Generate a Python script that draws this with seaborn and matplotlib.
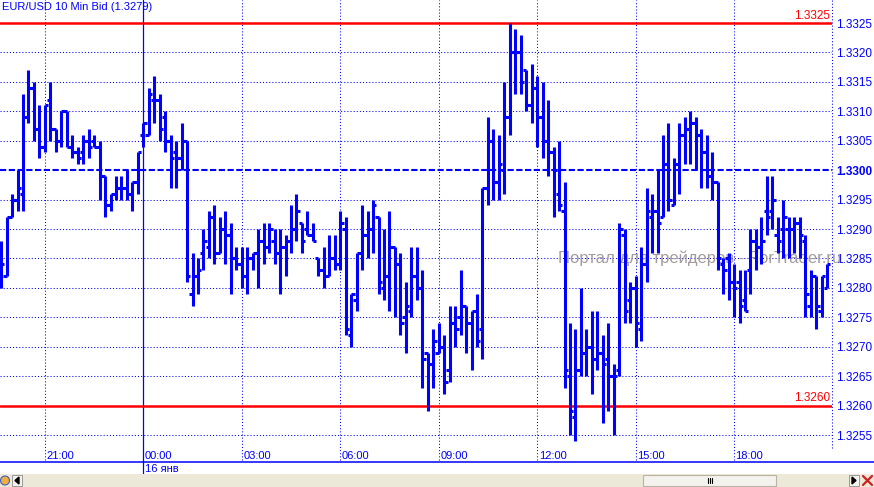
import numpy as np
import pandas as pd
import matplotlib
matplotlib.use("Agg")
import matplotlib.pyplot as plt
import seaborn as sns
from matplotlib.patches import Rectangle, Polygon, Circle
from matplotlib.lines import Line2D
import matplotlib.transforms as mtransforms

# ---------------- data (10-minute EUR/USD bid bars, 19:40 -> 20:50 next day) ----------------
opens = [1.3281, 1.3282, 1.3292, 1.3295, 1.3296, 1.3309, 1.3314, 1.3307, 1.3304, 1.3312,
         1.3307, 1.3305, 1.3310, 1.3304, 1.3303, 1.3303, 1.3305, 1.3305, 1.3304, 1.3299,
         1.3294, 1.3296, 1.3297, 1.3297, 1.3296, 1.3298, 1.3306, 1.3306, 1.3312, 1.3312,
         1.3309, 1.3305, 1.3303, 1.3302, 1.3305, 1.3279, 1.3282, 1.3286, 1.3287, 1.3292,
         1.3286, 1.3290, 1.3289, 1.3285, 1.3284, 1.3282, 1.3285, 1.3286, 1.3288, 1.3287,
         1.3288, 1.3286, 1.3287, 1.3288, 1.3290, 1.3291, 1.3290, 1.3289, 1.3285, 1.3283,
         1.3282, 1.3285, 1.3284, 1.3290, 1.3272, 1.3278, 1.3286, 1.3289, 1.3290, 1.3292,
         1.3280, 1.3282, 1.3287, 1.3284, 1.3275, 1.3276, 1.3282, 1.3280, 1.3269, 1.3267,
         1.3269, 1.3270, 1.3266, 1.3274, 1.3275, 1.3277, 1.3274, 1.3276, 1.3273, 1.3297,
         1.3305, 1.3298, 1.3300, 1.3309, 1.3320, 1.3320, 1.3317, 1.3311, 1.3314, 1.3309,
         1.3305, 1.3303, 1.3296, 1.3293, 1.3265, 1.3258, 1.3266, 1.3269, 1.3270, 1.3268,
         1.3269, 1.3268, 1.3265, 1.3266, 1.3289, 1.3278, 1.3280, 1.3273, 1.3284, 1.3292,
         1.3293, 1.3292, 1.3301, 1.3294, 1.3301, 1.3306, 1.3307, 1.3308, 1.3306, 1.3303,
         1.3299, 1.3298, 1.3284, 1.3285, 1.3281, 1.3281, 1.3278, 1.3283, 1.3288, 1.3287,
         1.3293, 1.3293, 1.3289, 1.3290, 1.3290, 1.3290, 1.3291, 1.3288, 1.3277, 1.3282,
         1.3276, 1.3280]
highs = [1.3288, 1.3292, 1.3296, 1.3300, 1.3313, 1.3317, 1.3315, 1.3311, 1.3311, 1.3315,
         1.3307, 1.3310, 1.3310, 1.3306, 1.3304, 1.3306, 1.3307, 1.3306, 1.3305, 1.3299,
         1.3296, 1.3299, 1.3299, 1.3300, 1.3298, 1.3303, 1.3308, 1.3314, 1.3316, 1.3313,
         1.3310, 1.3306, 1.3305, 1.3308, 1.3305, 1.3286, 1.3285, 1.3290, 1.3293, 1.3294,
         1.3292, 1.3293, 1.3291, 1.3287, 1.3287, 1.3287, 1.3286, 1.3290, 1.3291, 1.3291,
         1.3290, 1.3290, 1.3289, 1.3294, 1.3296, 1.3291, 1.3293, 1.3291, 1.3285, 1.3287,
         1.3289, 1.3289, 1.3293, 1.3292, 1.3279, 1.3286, 1.3294, 1.3293, 1.3295, 1.3292,
         1.3290, 1.3293, 1.3287, 1.3286, 1.3281, 1.3287, 1.3287, 1.3283, 1.3269, 1.3273,
         1.3274, 1.3272, 1.3277, 1.3277, 1.3283, 1.3277, 1.3276, 1.3279, 1.3297, 1.3309,
         1.3307, 1.3306, 1.3315, 1.3325, 1.3324, 1.3323, 1.3317, 1.3318, 1.3316, 1.3315,
         1.3312, 1.3304, 1.3305, 1.3298, 1.3274, 1.3273, 1.3280, 1.3273, 1.3276, 1.3276,
         1.3272, 1.3274, 1.3267, 1.3291, 1.3290, 1.3281, 1.3282, 1.3287, 1.3297, 1.3296,
         1.3300, 1.3306, 1.3308, 1.3302, 1.3308, 1.3309, 1.3310, 1.3309, 1.3307, 1.3306,
         1.3303, 1.3298, 1.3285, 1.3286, 1.3284, 1.3283, 1.3283, 1.3290, 1.3290, 1.3292,
         1.3299, 1.3299, 1.3292, 1.3295, 1.3292, 1.3292, 1.3292, 1.3289, 1.3283, 1.3282,
         1.3282, 1.3284]
lows = [1.3280, 1.3282, 1.3292, 1.3293, 1.3293, 1.3308, 1.3305, 1.3302, 1.3303, 1.3305,
        1.3303, 1.3304, 1.3304, 1.3302, 1.3301, 1.3301, 1.3302, 1.3304, 1.3295, 1.3292,
        1.3293, 1.3295, 1.3295, 1.3295, 1.3293, 1.3296, 1.3304, 1.3306, 1.3308, 1.3305,
        1.3303, 1.3297, 1.3297, 1.3300, 1.3281, 1.3277, 1.3279, 1.3283, 1.3285, 1.3284,
        1.3286, 1.3284, 1.3279, 1.3283, 1.3280, 1.3279, 1.3283, 1.3280, 1.3284, 1.3286,
        1.3284, 1.3279, 1.3282, 1.3286, 1.3288, 1.3286, 1.3289, 1.3288, 1.3282, 1.3280,
        1.3282, 1.3283, 1.3283, 1.3272, 1.3270, 1.3276, 1.3283, 1.3285, 1.3286, 1.3279,
        1.3278, 1.3276, 1.3275, 1.3272, 1.3269, 1.3275, 1.3278, 1.3263, 1.3259, 1.3263,
        1.3269, 1.3262, 1.3264, 1.3270, 1.3272, 1.3269, 1.3266, 1.3270, 1.3268, 1.3294,
        1.3295, 1.3295, 1.3296, 1.3306, 1.3313, 1.3313, 1.3310, 1.3308, 1.3304, 1.3302,
        1.3299, 1.3292, 1.3293, 1.3263, 1.3255, 1.3254, 1.3265, 1.3265, 1.3262, 1.3266,
        1.3257, 1.3259, 1.3255, 1.3265, 1.3274, 1.3274, 1.3270, 1.3271, 1.3281, 1.3286,
        1.3286, 1.3292, 1.3293, 1.3294, 1.3296, 1.3301, 1.3301, 1.3300, 1.3297, 1.3297,
        1.3295, 1.3283, 1.3279, 1.3278, 1.3275, 1.3274, 1.3276, 1.3279, 1.3283, 1.3284,
        1.3289, 1.3290, 1.3286, 1.3285, 1.3285, 1.3286, 1.3285, 1.3275, 1.3275, 1.3273,
        1.3275, 1.3280]
closes = [1.3284, 1.3292, 1.3295, 1.3297, 1.3309, 1.3314, 1.3307, 1.3304, 1.3311, 1.3307,
          1.3305, 1.3310, 1.3304, 1.3303, 1.3302, 1.3305, 1.3304, 1.3304, 1.3299, 1.3294,
          1.3296, 1.3297, 1.3297, 1.3296, 1.3298, 1.3303, 1.3308, 1.3313, 1.3312, 1.3307,
          1.3305, 1.3302, 1.3302, 1.3305, 1.3282, 1.3282, 1.3283, 1.3288, 1.3292, 1.3286,
          1.3290, 1.3289, 1.3285, 1.3284, 1.3282, 1.3285, 1.3286, 1.3288, 1.3287, 1.3290,
          1.3286, 1.3287, 1.3288, 1.3290, 1.3293, 1.3288, 1.3289, 1.3288, 1.3283, 1.3282,
          1.3285, 1.3284, 1.3291, 1.3273, 1.3279, 1.3286, 1.3289, 1.3290, 1.3294, 1.3281,
          1.3282, 1.3287, 1.3284, 1.3274, 1.3277, 1.3282, 1.3280, 1.3268, 1.3267, 1.3271,
          1.3270, 1.3264, 1.3274, 1.3273, 1.3277, 1.3274, 1.3276, 1.3271, 1.3297, 1.3305,
          1.3298, 1.3301, 1.3309, 1.3320, 1.3320, 1.3315, 1.3311, 1.3314, 1.3309, 1.3305,
          1.3303, 1.3300, 1.3294, 1.3266, 1.3259, 1.3266, 1.3269, 1.3270, 1.3268, 1.3269,
          1.3267, 1.3265, 1.3265, 1.3290, 1.3276, 1.3280, 1.3274, 1.3284, 1.3293, 1.3293,
          1.3291, 1.3301, 1.3295, 1.3301, 1.3306, 1.3307, 1.3308, 1.3306, 1.3303, 1.3299,
          1.3298, 1.3285, 1.3283, 1.3281, 1.3280, 1.3277, 1.3276, 1.3288, 1.3287, 1.3288,
          1.3292, 1.3295, 1.3288, 1.3292, 1.3290, 1.3291, 1.3289, 1.3279, 1.3282, 1.3277,
          1.3282, 1.3284]

time_labels = ["21:00", "00:00", "03:00", "06:00", "09:00", "12:00", "15:00", "18:00"]
time_label_bars = [8, 26, 44, 62, 80, 98, 116, 134]
day_break_bar = 26
date_label = "16 янв"
price_ticks = [1.3255, 1.3260, 1.3265, 1.3270, 1.3275, 1.3280, 1.3285, 1.3290,
               1.3295, 1.3300, 1.3305, 1.3310, 1.3315, 1.3320, 1.3325]
red_levels = [1.3325, 1.3260]
dashed_level = 1.3300
title = "EUR/USD 10 Min Bid (1.3279)"
watermark = "Портал для трейдеров - ForTrader.ru"

# ---------------- style ----------------
sns.set_style("white")
plt.rcParams["font.family"] = ["Liberation Sans", "DejaVu Sans"]
BLUE = "#0000ff"
RED = "#ff0000"

W, H = 874, 487
fig = plt.figure(figsize=(W / 100, H / 100), dpi=100)
fig.patch.set_facecolor("white")

AX_W = 832          # plot area right edge (px)
AX_B = 462          # plot area bottom (px from top)
ax = fig.add_axes([0, (H - AX_B) / H, AX_W / W, AX_B / H])
ax.set_facecolor("white")

px = 0.001 / 58.86                      # price per pixel
ymax = 1.3325 + 23 * px
ymin = 1.3325 - (AX_B - 23) * px
bw = 5.47                               # px per bar
x0 = -1.1 / bw

def yfrac(py):
    return (AX_B - py) / AX_B

n = len(opens)
xs = np.arange(n)

# high-low bars through seaborn
df = pd.DataFrame({
    "x": np.repeat(xs, 2),
    "price": np.ravel(np.column_stack([lows, highs])),
    "bar": np.repeat(xs, 2),
})
sns.lineplot(data=df, x="x", y="price", units="bar", estimator=None, sort=False,
             color=BLUE, lw=2.2, solid_capstyle="butt", legend=False, ax=ax, zorder=5)

# open (left) / close (right) ticks
tk = 0.62
lc1 = ax.hlines(opens, xs - tk, xs, color=BLUE, lw=2.2, zorder=5)
lc2 = ax.hlines(closes, xs, xs + tk, color=BLUE, lw=2.2, zorder=5)
for lc in (lc1, lc2):
    lc.set_capstyle("butt")

ax.set_xlim(x0, x0 + AX_W / bw)
ax.set_ylim(ymin, ymax)
ax.set_xlabel("")
ax.set_ylabel("")
for s in ax.spines.values():
    s.set_visible(False)

# horizontal grid
for p in price_ticks:
    if p == dashed_level or p == 1.3325:
        continue
    ax.axhline(p, color=BLUE, lw=0.75, ls=(0, (1, 2)), zorder=1)
ax.axhline(dashed_level, color=BLUE, lw=1.5, ls=(0, (3, 1.2)), zorder=2)

# vertical grid
for b in time_label_bars:
    if b == day_break_bar:
        continue
    ax.axvline(b, ymin=yfrac(460), ymax=1, color=BLUE, lw=0.75, ls=(0, (1, 2)), zorder=1)
ax.axvline(day_break_bar, ymin=yfrac(474), ymax=1, color=BLUE, lw=0.9, zorder=2, clip_on=False)

# right axis dotted line
ax.plot([1, 1], [yfrac(448), 1], transform=ax.transAxes, color=BLUE, lw=0.75,
        ls=(0, (1, 2)), clip_on=False, zorder=1)

# red levels
ytr = ax.get_yaxis_transform()
for lv in red_levels:
    ax.axhline(lv, color=RED, lw=1.8, zorder=3)
    ax.text(830 / AX_W, lv + 1.2 * px, f"{lv:.4f}", transform=ytr, ha="right", va="bottom",
            color=RED, fontsize=8.5, zorder=6)

# price labels on the right
ax.yaxis.tick_right()
ax.set_yticks(price_ticks)
ax.set_yticklabels([f"{p:.4f}" for p in price_ticks])
ax.tick_params(axis="y", length=0, pad=3, labelsize=8.5, labelcolor=BLUE)
for lab, p in zip(ax.get_yticklabels(), price_ticks):
    if p == dashed_level:
        lab.set_fontweight("bold")
ax.set_xticks([])

# time labels
xtr = ax.get_xaxis_transform()
for b, lab in zip(time_label_bars, time_labels):
    ax.text(b + 1.5 / bw, yfrac(456), lab, transform=xtr, ha="left", va="center",
            color=BLUE, fontsize=8, clip_on=False)
ax.text(day_break_bar + 1.5 / bw, yfrac(468.5), date_label, transform=xtr, ha="left",
        va="center", color=BLUE, fontsize=8, clip_on=False)

# watermark
ax.text(558 / AX_W, 1.3325 - (258 - 23) * px, watermark, transform=ytr, ha="left",
        va="center", color="#a49c9c", fontsize=12, zorder=1.5, clip_on=False)

# title
fig.text(2 / W, 1 - 7 / H, title, ha="left", va="center", color=BLUE, fontsize=8)

# separator line under time axis
fig.add_artist(Line2D([0, 1], [(H - 462) / H] * 2, color=BLUE, lw=1.1))

# scrollbar
sax = fig.add_axes([0, 0, 1, 13 / H])
sax.set_xlim(0, W)
sax.set_ylim(0, 13)
sax.axis("off")
sax.add_patch(Rectangle((0, 0), W, 13, color="#ece9d8"))
sax.add_patch(Rectangle((643, 1), 133, 11, facecolor="#f3f2ec", edgecolor="#b8b4a4", lw=0.8))
for dx in (-2, 0, 2):
    sax.plot([709.5 + dx] * 2, [4, 9], color="black", lw=0.8)
sax.add_patch(Rectangle((12, 1), 10, 11, facecolor="#f3f2ec", edgecolor="#8c8c8c", lw=0.6))
sax.add_patch(Polygon([[19, 3], [19, 10], [15, 6.5]], color="black"))
sax.add_patch(Rectangle((849, 1), 10, 11, facecolor="#f3f2ec", edgecolor="#8c8c8c", lw=0.6))
sax.add_patch(Polygon([[852, 3], [852, 10], [856, 6.5]], color="black"))
sax.add_patch(Circle((5, 6.5), 4.5, facecolor="#f0b040", edgecolor="#4060c0", lw=0.8))
sax.plot([863, 872], [2, 11], color="#d02020", lw=1.6)
sax.plot([863, 872], [11, 2], color="#d02020", lw=1.6)

fig.savefig("out.png", dpi=100, facecolor="white")
